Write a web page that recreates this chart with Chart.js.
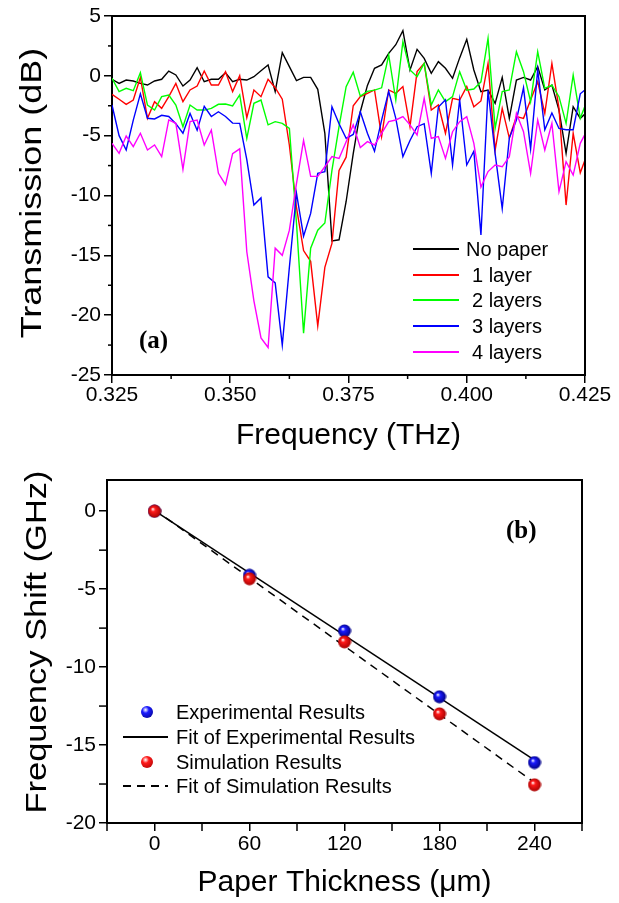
<!DOCTYPE html>
<html>
<head>
<meta charset="utf-8">
<script src="https://cdn.jsdelivr.net/npm/chart.js@4.4.1/dist/chart.umd.min.js"></script>
<style>
  html,body{margin:0;padding:0;background:#fff;}
  #wrap{position:relative;width:619px;height:903px;overflow:hidden;background:#fff;font-family:"Liberation Sans",Arial,sans-serif;color:#000;}
  canvas{position:absolute;left:0;}
  .ytitle{position:absolute;font-size:30px;line-height:34px;white-space:nowrap;transform-origin:center center;}
  .lg{position:absolute;font-size:20px;line-height:24px;white-space:pre;}
  .ln{position:absolute;height:2px;}
  .ball{position:absolute;width:12px;height:12px;border-radius:50%;}
  .panel{position:absolute;font-family:"Liberation Serif","Times New Roman",serif;font-weight:bold;font-size:25px;line-height:30px;}
</style>
</head>
<body>
<div id="wrap">
  <canvas id="ca" width="619" height="454" style="top:0px;width:619px;height:454px"></canvas>
  <canvas id="cb" width="619" height="449" style="top:454px;width:619px;height:449px"></canvas>
</div>
<script>
// ---------- Panel (a) data ----------
const freqTHz = [
  0.3250,0.3265,0.3280,0.3295,0.3310,0.3325,0.3340,0.3355,0.3370,0.3385,
  0.3400,0.3415,0.3430,0.3445,0.3460,0.3475,0.3490,0.3505,0.3520,0.3535,
  0.3550,0.3565,0.3580,0.3595,0.3610,0.3625,0.3640,0.3655,0.3670,0.3685,
  0.3700,0.3715,0.3730,0.3745,0.3760,0.3775,0.3790,0.3805,0.3820,0.3835,
  0.3850,0.3865,0.3880,0.3895,0.3910,0.3925,0.3940,0.3955,0.3970,0.3985,
  0.4000,0.4015,0.4030,0.4045,0.4060,0.4075,0.4090,0.4105,0.4120,0.4135,
  0.4150,0.4165,0.4180,0.4195,0.4210,0.4225,0.4240,0.4255
];
const noPaper = [
  -0.29,-0.63,-0.35,-0.43,-0.63,-0.77,-0.43,-0.29,0.40,0.07,
  -0.85,-0.35,0.68,-0.49,-0.29,-0.29,0.26,-0.49,-0.29,-0.35,
  -0.07,0.43,0.90,-1.32,1.94,0.77,-0.40,-0.13,-0.13,-1.13,
  -4.8,-13.8,-13.7,-10.5,-6.5,-3.0,-0.8,0.63,0.91,1.88,
  2.6,3.77,0.49,2.21,1.46,0.21,1.18,0.63,-0.21,1.5,
  3.05,0.49,-1.32,-1.18,-2.3,-0.13,-3.55,-0.35,-0.13,-0.35,
  0.77,-1.18,-0.77,-2.86,-6.48,-2.58,-3.55,-3.0
];
const layer1 = [
  -1.55,-1.96,-2.38,-2.02,-0.13,-3.55,-2.16,-2.72,-1.74,-0.63,
  -2.16,-1.18,-0.85,0.40,-0.77,-0.77,0.35,-1.32,0.01,-3.5,
  -1.18,-1.74,-0.29,-0.99,-1.95,-5.8,-11.0,-14.6,-15.5,-20.9,
  -16.0,-14.0,-7.9,-6.8,-2.5,-1.74,-1.46,-1.18,-5.08,-1.18,
  -1.46,-0.9,-4.25,0.35,1.04,-2.86,-2.44,-4.8,-1.88,-2.02,
  -0.9,-2.58,-2.1,1.04,-6.2,-2.72,-5.2,-3.4,-3.55,-2.02,
  -0.49,-3.13,1.04,-2.72,-10.8,-4.8,-8.1,-6.5
];
const layer2 = [
  -0.21,-1.32,-1.04,-1.24,0.26,-2.44,-2.86,-1.74,-1.6,-2.44,
  -4.25,-2.44,-2.86,-2.86,-2.72,-2.38,-2.35,-2.52,-1.6,-5.22,
  -2.3,-2.02,-4.1,-3.83,-3.97,-4.4,-12.3,-21.5,-14.4,-12.9,
  -12.3,-7.9,-4.25,-0.9,0.3,-1.7,-1.3,-1.2,-1.0,1.74,
  -2.02,2.86,0.49,-0.07,1.04,-2.44,-1.18,-2.16,-1.74,0.35,
  -1.2,-1.1,-0.5,3.13,-4.39,-1.32,-1.18,2.02,0.35,-2.16,
  2.02,-1.04,-0.77,-1.74,-3.97,0.07,-3.55,-2.0
];
const layer3 = [
  -2.44,-5.0,-6.2,-3.7,-1.5,-3.55,-3.6,-3.3,-3.4,-4.0,
  -4.8,-3.15,-4.55,-2.55,-3.4,-3.0,-3.4,-3.95,-3.97,-7.0,
  -10.8,-10.2,-16.8,-17.3,-22.5,-16.0,-9.8,-13.4,-11.5,-8.15,
  -8.0,-2.58,-4.0,-5.22,-4.9,-3.0,-4.8,-6.3,-3.7,-1.3,
  -3.55,-6.75,-5.4,-4.25,-4.0,-8.15,-2.6,-2.0,-7.45,-2.0,
  -7.45,-6.3,-13.3,-1.2,-6.5,-11.1,-5.2,-3.7,-1.0,-6.1,
  0.5,-4.5,-3.1,-4.4,-4.5,-4.5,-1.5,-1.0
];
const layer4 = [
  -5.64,-6.48,-5.03,-5.92,-4.8,-6.2,-5.78,-6.75,-3.69,-3.97,
  -7.81,-3.83,-3.69,-5.78,-4.53,-8.15,-9.1,-6.5,-6.1,-14.7,
  -18.8,-21.9,-22.7,-14.4,-15.0,-12.9,-9.0,-5.4,-8.4,-8.4,
  -7.6,-6.75,-6.9,-5.5,-4.1,-6.0,-5.5,-5.78,-4.8,-3.83,
  -3.69,-3.41,-4.1,-4.94,-1.88,-5.22,-5.08,-6.9,-4.67,-3.83,
  -3.41,-5.64,-9.3,-8.0,-7.45,-7.6,-6.75,-3.13,-4.67,-8.15,
  -3.69,-6.2,-3.97,-9.68,-7.17,-8.29,-5.64,-4.5
];
const seriesNames = ["No paper", "1 layer", "2 layers", "3 layers", "4 layers"];
const seriesColors = ["#000000", "#ff0000", "#00ff00", "#0000ff", "#ff00ff"];
const freqTicks = [0.325, 0.350, 0.375, 0.400, 0.425];
const freqMinor = [0.3375, 0.3625, 0.3875, 0.4125];
const transTicks = [5, 0, -5, -10, -15, -20, -25];
const transMinor = [2.5, -2.5, -7.5, -12.5, -17.5, -22.5];

// ---------- Panel (b) data ----------
const thickness = [0, 60, 120, 180, 240];
const expShift = [0, -4.11, -7.68, -11.9, -16.12];
const simShift = [0, -4.33, -8.38, -13.0, -17.55];
const fitThickness = [0, 240];
const expFit = [0.04, -15.97];
const simFit = [0.10, -17.41];
const legendB = ["Experimental Results", "Fit of Experimental Results", "Simulation Results", "Fit of Simulation Results"];
const thickTicks = [0, 60, 120, 180, 240];
const thickMinor = [-30, 30, 90, 150, 210, 270];
const shiftTicks = [0, -5, -10, -15, -20];
const shiftMinor = [-2.5, -7.5, -12.5, -17.5];

// ---------- common ----------
const FONT = '"Liberation Sans", Arial, sans-serif';
Chart.defaults.font.family = FONT;
Chart.defaults.color = '#000';

const frameTicks = {
  id: 'frameTicks',
  afterDraw(chart, args, opts) {
    const {ctx, chartArea: a} = chart;
    const xs = chart.scales.x, ys = chart.scales.y;
    ctx.save();
    ctx.strokeStyle = '#000';
    ctx.lineWidth = 1.5;
    opts.xMinor.forEach(v => {
      const p = xs.getPixelForValue(v);
      ctx.beginPath(); ctx.moveTo(p, a.bottom); ctx.lineTo(p, a.bottom + opts.len); ctx.stroke();
    });
    opts.yMinor.forEach(v => {
      const p = ys.getPixelForValue(v);
      ctx.beginPath(); ctx.moveTo(a.left, p); ctx.lineTo(a.left - opts.len, p); ctx.stroke();
    });
    ctx.lineWidth = 2;
    ctx.beginPath();
    ctx.moveTo(a.left - 1, a.top); ctx.lineTo(a.right, a.top); ctx.lineTo(a.right, a.bottom + 1);
    ctx.stroke();
    ctx.restore();
  }
};

function axisCommon(ticksArr, fmt, fitFn, pad) {
  return {
    type: 'linear',
    afterBuildTicks: s => { s.ticks = ticksArr.map(v => ({value: v})); },
    afterFit: fitFn,
    ticks: {callback: fmt, font: {size: 21, family: FONT}, color: '#000', autoSkip: false, maxRotation: 0, padding: pad},
    grid: {drawOnChartArea: false, drawTicks: true, tickLength: 8, color: '#000', lineWidth: 1.5},
    border: {display: true, color: '#000', width: 2}
  };
}

// ---------- Chart (a) ----------
const seriesData = [noPaper, layer1, layer2, layer3, layer4];
const chartA = new Chart(document.getElementById('ca'), {
  type: 'line',
  data: {
    datasets: seriesData.map((arr, k) => ({
      label: seriesNames[k],
      data: freqTHz.map((f, i) => ({x: f, y: arr[i]})),
      borderColor: seriesColors[k],
      backgroundColor: seriesColors[k],
      borderWidth: 1.4,
      pointRadius: 0,
      tension: 0,
      order: 4 - k
    }))
  },
  options: {
    responsive: false, animation: false, devicePixelRatio: 1,
    layout: {padding: {top: 16, right: 34, left: 0, bottom: 0}},
    plugins: {legend: {display: false}, tooltip: {enabled: false},
      frameTicks: {xMinor: freqMinor, yMinor: transMinor, len: 4}},
    scales: {
      x: Object.assign(axisCommon(freqTicks, v => Number(v).toFixed(3), s => { s.height = 79; }, 0), {
        min: 0.325, max: 0.425,
        title: {display: true, text: 'Frequency (THz)', font: {size: 30, family: FONT}, color: '#000', padding: {top: 0, bottom: 0}}
      }),
      y: Object.assign(axisCommon(transTicks, v => String(v), s => { s.width = 112; }, 3), {
        min: -25, max: 5
      })
    }
  },
  plugins: [frameTicks]
});

// ---------- Chart (b) ----------
function ballSprite(mid, dark) {
  const c = document.createElement('canvas');
  c.width = 14; c.height = 14;
  const g = c.getContext('2d');
  const grad = g.createRadialGradient(5.2, 4.8, 0.3, 7, 7, 7);
  grad.addColorStop(0, '#ffffff');
  grad.addColorStop(0.28, mid);
  grad.addColorStop(1, dark);
  g.fillStyle = grad;
  g.beginPath(); g.arc(7, 7, 6.5, 0, Math.PI * 2); g.fill();
  return c;
}
const blueBall = ballSprite('#1a1aff', '#00007a');
const redBall = ballSprite('#ff1a1a', '#a00000');

const chartB = new Chart(document.getElementById('cb'), {
  type: 'scatter',
  data: {
    datasets: [
      {label: legendB[1], data: fitThickness.map((x, i) => ({x, y: expFit[i]})), showLine: true,
        borderColor: '#000', borderWidth: 1.5, pointRadius: 0, order: 4},
      {label: legendB[3], data: fitThickness.map((x, i) => ({x, y: simFit[i]})), showLine: true,
        borderColor: '#000', borderWidth: 1.5, borderDash: [8, 6], pointRadius: 0, order: 3},
      {label: legendB[0], data: thickness.map((x, i) => ({x, y: expShift[i]})),
        pointStyle: blueBall, pointRadius: 6, order: 2},
      {label: legendB[2], data: thickness.map((x, i) => ({x, y: simShift[i]})),
        pointStyle: redBall, pointRadius: 6, order: 1}
    ]
  },
  options: {
    responsive: false, animation: false, devicePixelRatio: 1,
    layout: {padding: {top: 26, right: 37, left: 0, bottom: 0}},
    plugins: {legend: {display: false}, tooltip: {enabled: false},
      frameTicks: {xMinor: thickMinor, yMinor: shiftMinor, len: 8}},
    scales: {
      x: Object.assign(axisCommon(thickTicks, v => String(v), s => { s.height = 80; }, 1), {
        min: -30, max: 270,
        title: {display: true, text: 'Paper Thickness (\u03bcm)', font: {size: 30, family: FONT}, color: '#000', padding: {top: 0, bottom: 2}}
      }),
      y: Object.assign(axisCommon(shiftTicks, v => String(v), s => { s.width = 107; }, 3), {
        min: -20, max: 2
      })
    }
  },
  plugins: [frameTicks]
});

// ---------- HTML overlays: y titles, legends, panel labels ----------
const wrap = document.getElementById('wrap');
function addDiv(cls, text, style) {
  const d = document.createElement('div');
  d.className = cls;
  if (text !== null) d.textContent = text;
  Object.assign(d.style, style);
  wrap.appendChild(d);
  return d;
}
function yTitle(text, cx, cy, sx) {
  const d = addDiv('ytitle', text, {left: '0px', top: '0px'});
  const w = d.offsetWidth, h = d.offsetHeight;
  d.style.left = (cx - w / 2) + 'px';
  d.style.top = (cy - h / 2) + 'px';
  d.style.transform = 'rotate(-90deg) scaleX(' + sx + ')';
}
yTitle('Transmission (dB)', 31, 193, 1.2);
yTitle('Frequency Shift (GHz)', 36, 642, 1.15);

// legend (a)
chartA.data.datasets.forEach((ds, k) => {
  const cy = 249 + k * 25.7;
  addDiv('ln', null, {left: '413px', width: '46px', top: (cy - 1) + 'px', background: ds.borderColor});
  addDiv('lg', ds.label, {left: (k === 0 ? 466 : 472) + 'px', top: (cy - 12) + 'px'});
});

// legend (b)
const rowsB = [
  {kind: 'ball', bg: 'radial-gradient(circle at 38% 32%, #ffffff 0%, #1a1aff 30%, #00007a 100%)'},
  {kind: 'line', bg: '#000'},
  {kind: 'ball', bg: 'radial-gradient(circle at 38% 32%, #ffffff 0%, #ff1a1a 30%, #a00000 100%)'},
  {kind: 'line', bg: 'repeating-linear-gradient(to right, #000 0px, #000 8px, transparent 8px, transparent 14px)'}
];
const rowYB = [712, 737, 761.5, 786];
legendB.forEach((txt, k) => {
  const cy = rowYB[k], r = rowsB[k];
  if (r.kind === 'ball') {
    addDiv('ball', null, {left: (147 - 6) + 'px', top: (cy - 6) + 'px', background: r.bg});
  } else {
    addDiv('ln', null, {left: '123px', width: '45px', top: (cy - 1) + 'px', height: '1.5px', background: r.bg});
  }
  addDiv('lg', txt, {left: '176px', top: (cy - 12) + 'px'});
});

addDiv('panel', '(a)', {left: '139px', top: (340 - 15) + 'px'});
addDiv('panel', '(b)', {left: '506px', top: (530 - 15) + 'px'});
</script>
</body>
</html>
